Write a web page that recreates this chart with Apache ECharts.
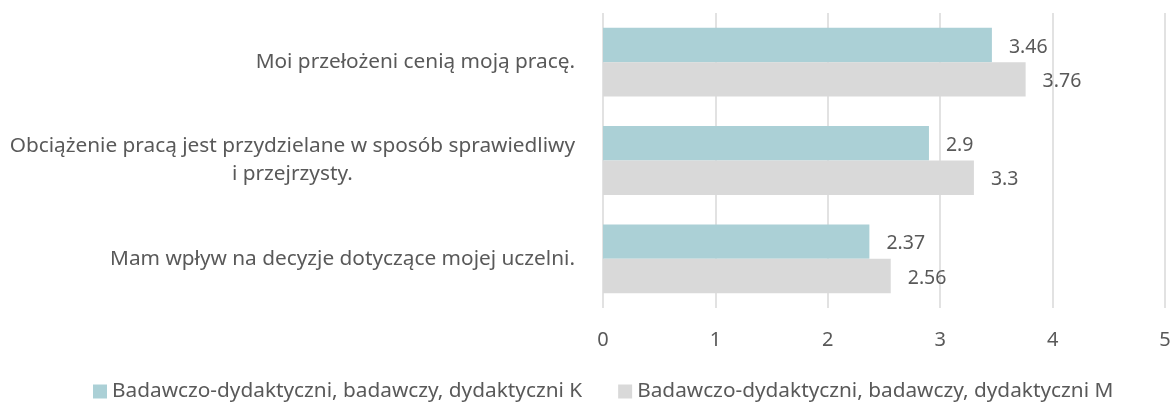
<!DOCTYPE html>
<html>
<head>
<meta charset="utf-8">
<script src="https://cdn.jsdelivr.net/npm/echarts@6/dist/echarts.min.js"></script>
<style>
  html, body { margin: 0; padding: 0; background: #fff; }
  #chart { width: 1174px; height: 403px; }
</style>
</head>
<body>
<div id="chart"></div>
<script>
// dane
const categories = [
  "Moi przełożeni cenią moją pracę.",
  "Obciążenie pracą jest przydzielane w sposób sprawiedliwy\ni przejrzysty.",
  "Mam wpływ na decyzje dotyczące mojej uczelni."
];
const seriesNames = [
  "Badawczo-dydaktyczni, badawczy, dydaktyczni K",
  "Badawczo-dydaktyczni, badawczy, dydaktyczni M"
];
const valuesK = [3.46, 2.9, 2.37];
const valuesM = [3.76, 3.3, 2.56];
const xTicks = { min: 0, max: 5, interval: 1 };

const FONT = "Noto Sans";
const TEXT = "#595959";

const chart = echarts.init(document.getElementById("chart"));

const barLabel = {
  show: true,
  position: "right",
  distance: 17,
  color: TEXT,
  fontFamily: FONT,
  fontSize: 19.5,
  offset: [0, 2]
};

chart.setOption({
  animation: false,
  textStyle: { fontFamily: FONT },
  legend: {
    top: 376,
    left: 88,
    itemWidth: 14,
    itemHeight: 14,
    itemGap: 36,
    icon: "rect",
    textStyle: { color: TEXT, fontSize: 20.8, fontFamily: FONT },
    data: seriesNames
  },
  grid: {
    left: 603,
    right: 9,
    top: 13,
    bottom: 95
  },
  xAxis: {
    type: "value",
    min: xTicks.min,
    max: xTicks.max,
    interval: xTicks.interval,
    axisLine: { show: false },
    axisTick: { show: false },
    splitLine: { show: true, lineStyle: { color: "#d9d9d9", width: 1.5 } },
    axisLabel: { color: TEXT, fontSize: 20, fontFamily: FONT, margin: 22 }
  },
  yAxis: {
    type: "category",
    inverse: true,
    data: categories,
    axisLine: { show: false },
    axisTick: { show: false },
    axisLabel: {
      margin: 28,
      formatter: v => "{c|" + v.split("\n").join("}\n{c|") + "}",
      rich: {
        c: { align: "center", color: TEXT, fontSize: 20.8, fontFamily: FONT, lineHeight: 28 }
      }
    }
  },
  series: [
    {
      name: seriesNames[0],
      type: "bar",
      data: valuesK,
      barGap: "0%",
      barCategoryGap: "30%",
      itemStyle: { color: "#abd0d6" },
      label: barLabel
    },
    {
      name: seriesNames[1],
      type: "bar",
      data: valuesM,
      barGap: "0%",
      barCategoryGap: "30%",
      itemStyle: { color: "#d9d9d9" },
      label: barLabel
    }
  ]
});
</script>
</body>
</html>
